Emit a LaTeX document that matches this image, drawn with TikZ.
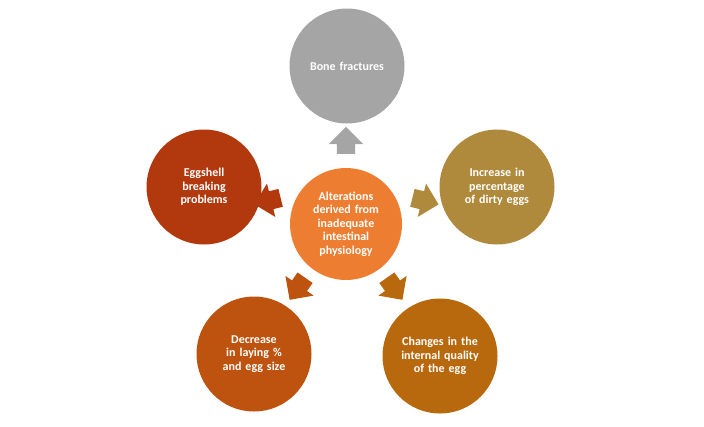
\documentclass[tikz,border=0pt]{standalone}
\usepackage{fontspec}
\setmainfont{Carlito}
\usetikzlibrary{shapes.arrows}
\definecolor{cgrey}{HTML}{A5A5A5}
\definecolor{cgold}{HTML}{B08A3C}
\definecolor{cred}{HTML}{B2380E}
\definecolor{cbl}{HTML}{BE520F}
\definecolor{cbr}{HTML}{B8690E}
\definecolor{ccen}{HTML}{ED7D31}
\begin{document}
\begin{tikzpicture}[x=1pt,y=-1pt,
  circ/.style={circle,minimum size=115pt,inner sep=0pt,text width=80pt,align=center,text=white,font=\bfseries\fontsize{12}{13.5}\selectfont},
  arr/.style={single arrow,minimum height=27pt,inner xsep=0pt,inner ysep=9pt,single arrow head extend=8pt,single arrow head indent=0pt,draw=none}]
\useasboundingbox (0,0) rectangle (704,426);
\node[circ,fill=ccen,minimum size=112pt] (c) at (346,224) {Alterations derived from inadequate intestinal physiology};
\node[circ,fill=cgrey] (t) at (347,66) {Bone fractures};
\node[circ,fill=cgold] (r) at (497,187) {Increase in percentage of dirty eggs};
\node[circ,fill=cred] (l) at (204,187) {Eggshell breaking problems};
\node[circ,fill=cbl] (bl) at (254,354) {Decrease in laying \% and egg size};
\node[circ,fill=cbr] (br) at (440,356) {Changes in the internal quality of the egg};
\node[arr,fill=cgrey,rotate=90] (at) at (346,145) {};
\node[arr,fill=cgold,rotate=-14] (ar) at (421,200) {};
\node[arr,fill=cred,rotate=194] (al) at (272,200) {};
\node[arr,fill=cbl,rotate=235] (abl) at (300,285) {};
\node[arr,fill=cbr,rotate=305] (abr) at (392,285) {};
\end{tikzpicture}
\end{document}
